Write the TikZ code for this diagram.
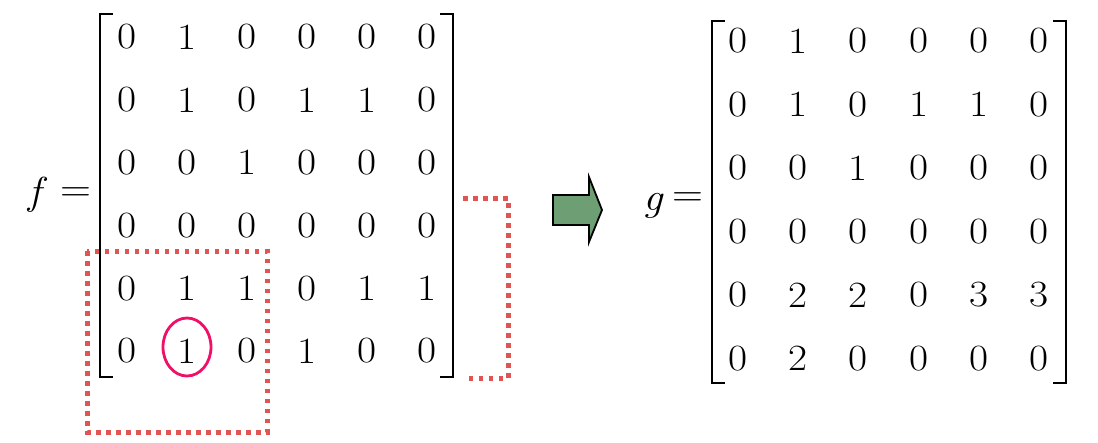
\documentclass[tikz,border=0pt]{standalone}
\usetikzlibrary{shapes.geometric}
\definecolor{dotred}{RGB}{224,84,84}
\definecolor{circred}{RGB}{240,16,104}
\definecolor{arrowgreen}{RGB}{110,158,116}
\tikzset{
  num/.style={inner sep=0pt, xscale=1.12, font=\fontsize{37}{44}\selectfont},
  lbl/.style={inner sep=0pt, xscale=1.1, font=\fontsize{39}{46}\selectfont},
  brack/.style={line width=2pt, black},
  dotbox/.style={dotred, line width=5pt, dash pattern=on 4.5pt off 5.5pt},
}
\begin{document}
\begin{tikzpicture}[x=1pt,y=-1pt]
\useasboundingbox (0,0) rectangle (1098,442);
% matrix f
\foreach \row [count=\r] in {{0,1,0,0,0,0},{0,1,0,1,1,0},{0,0,1,0,0,0},{0,0,0,0,0,0},{0,1,1,0,1,1},{0,1,0,1,0,0}}{
  \foreach \v [count=\c] in \row {
    \node[num] (f-\r-\c) at ({127+60*(\c-1)},{37+62.8*(\r-1)}) {\v};
  }
}
% matrix g
\foreach \row [count=\r] in {{0,1,0,0,0,0},{0,1,0,1,1,0},{0,0,1,0,0,0},{0,0,0,0,0,0},{0,2,2,0,3,3},{0,2,0,0,0,0}}{
  \foreach \v [count=\c] in \row {
    \node[num] (g-\r-\c) at ({738+60.2*(\c-1)},{41+63.5*(\r-1)}) {\v};
  }
}
% labels
\node[lbl] (flab) at (38,195) {\textit{f}};
\node[lbl] (feq) at (76,195) {=};
\node[lbl] (glab) at (654,206) {\textit{g}};
\node[lbl] (geq) at (688,200) {=};
% brackets f
\draw[brack] (113,14) -- (100,14) -- (100,377) -- (113,377);
\draw[brack] (440,14) -- (453,14) -- (453,377) -- (440,377);
% brackets g
\draw[brack] (725,21) -- (712,21) -- (712,383) -- (725,383);
\draw[brack] (1053,21) -- (1066,21) -- (1066,383) -- (1053,383);
% dotted boxes
\draw[dotbox] (87,251) rectangle (267,432);
\draw[dotbox] (463,198) -- (508,198) -- (508,378) -- (465,378);
% circle
\node[draw=circred, line width=2.8pt, ellipse, minimum width=48pt, minimum height=58pt, inner sep=0pt] (circ) at (187,347) {};
% block arrow
\draw[line width=1.8pt, fill=arrowgreen, line join=miter] (553,195) -- (589,195) -- (589,177) -- (602,210) -- (589,242) -- (589,225) -- (553,225) -- cycle;
\end{tikzpicture}
\end{document}
